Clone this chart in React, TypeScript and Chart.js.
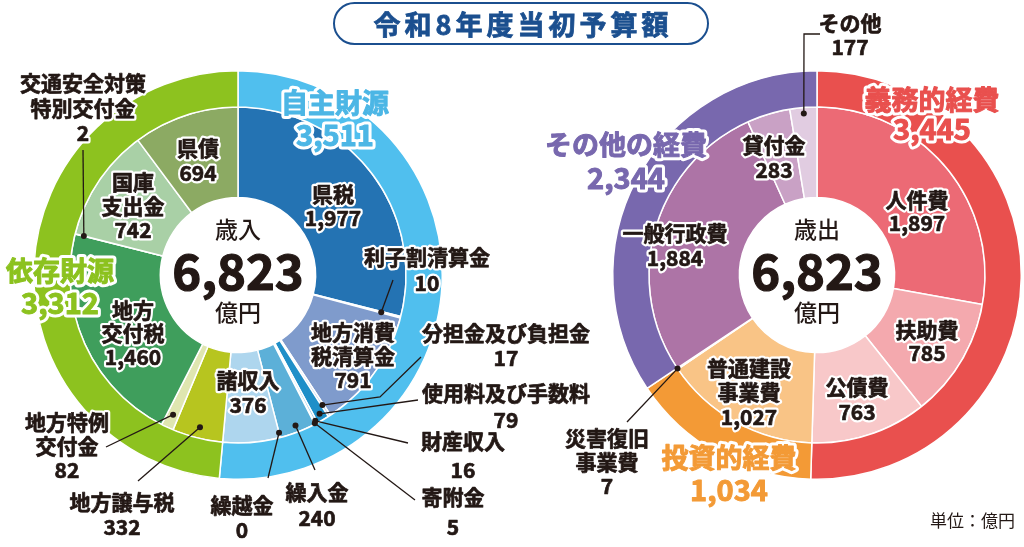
import React, { useEffect, useRef } from 'react';
import { Chart, registerables } from 'chart.js';
Chart.register(...registerables);

const FONT = '"Noto Sans CJK JP", "Noto Sans", sans-serif';
const INK = '#231815';

// ---- Revenue (歳入) ----
const revenueTitle = '歳入';
const revenueGroups = ['自主財源', '依存財源'];
const revenueGroupValues = [3511, 3312];
const revenueItems = [
  '県税', '利子割清算金', '地方消費\n税清算金', '分担金及び負担金', '使用料及び手数料',
  '財産収入', '寄附金', '繰入金', '繰越金', '諸収入',
  '地方譲与税', '地方特例\n交付金', '地方\n交付税', '交通安全対策\n特別交付金', '国庫\n支出金', '県債',
];
const revenueItemValues = [1977, 10, 791, 17, 79, 16, 5, 240, 0, 376, 332, 82, 1460, 2, 742, 694];

// ---- Expenditure (歳出) ----
const expenseTitle = '歳出';
const expenseGroups = ['義務的経費', '投資的経費', 'その他の経費'];
const expenseGroupValues = [3445, 1034, 2344];
const expenseItems = [
  '人件費', '扶助費', '公債費', '普通建設\n事業費', '災害復旧\n事業費', '一般行政費', '貸付金', 'その他',
];
const expenseItemValues = [1897, 785, 763, 1027, 7, 1884, 283, 177];

const unitLabel = '単位：億円';
const mainTitle = '令和8年度当初予算額';

// ---- styles ----
const revenueGroupColors = ['#50bfee', '#8dc21f'];
const revenueItemColors = [
  '#2473b3', '#1d68a6', '#7f9bcc', '#c3d4ec', '#1f8fc8',
  '#9ccbe9', '#5ab0dc', '#5cb0d8', '#aed6ee', '#aed6ee',
  '#b7c51f', '#dfe6b0', '#3f9e5c', '#3f9e5c', '#a9d0a6', '#8caa63',
];
const revenueGroupTextColors = ['#4cb6e5', '#8cc21f'];
const expenseGroupColors = ['#e9504e', '#f39a36', '#7868ae'];
const expenseItemColors = ['#ec6a75', '#f4a9ae', '#f8c8c9', '#f9c486', '#f39a36', '#ad74a6', '#c9a1c5', '#e1cce1'];
const expenseGroupTextColors = ['#e9504e', '#f39a36', '#7868ae'];

type Lbl = {
  ring: 0 | 1; i: number; x: number; y: number; lh: number;
  dotR?: number; path?: number[][];
};

const revenueLayout: Lbl[] = [
  { ring: 0, i: 0, x: 97, y: -172, lh: 32 },
  { ring: 0, i: 1, x: -178, y: -4, lh: 32 },
  { ring: 1, i: 0, x: 95, y: -81, lh: 24 },
  { ring: 1, i: 1, x: 189, y: -18, lh: 26, dotR: 148, path: [[155, 5]] },
  { ring: 1, i: 2, x: 115, y: 57, lh: 24 },
  { ring: 1, i: 3, x: 268, y: 58, lh: 25, dotR: 155, path: [[142, 122], [183, 82]] },
  { ring: 1, i: 4, x: 268, y: 118, lh: 27, dotR: 161, path: [[180, 125]] },
  { ring: 1, i: 5, x: 225, y: 166, lh: 29, dotR: 165, path: [[170, 168]] },
  { ring: 1, i: 6, x: 215, y: 222, lh: 30, dotR: 167, path: [[177, 225]] },
  { ring: 1, i: 7, x: 79, y: 217, lh: 26, dotR: 161, path: [[77, 195]] },
  { ring: 1, i: 8, x: 4, y: 230, lh: 25, dotR: 163, path: [[30, 203]] },
  { ring: 1, i: 9, x: 10, y: 105, lh: 25 },
  { ring: 1, i: 10, x: -116, y: 227, lh: 25, dotR: 157, path: [[-100, 206]] },
  { ring: 1, i: 11, x: -171, y: 147, lh: 24, dotR: 154, path: [[-132, 172]] },
  { ring: 1, i: 12, x: -105, y: 35, lh: 23.5 },
  { ring: 1, i: 13, x: -155, y: -192, lh: 25, dotR: 159, path: [[-155, -125]] },
  { ring: 1, i: 14, x: -105, y: -93, lh: 24 },
  { ring: 1, i: 15, x: -40, y: -127, lh: 25 },
];

const expenseLayout: Lbl[] = [
  { ring: 0, i: 0, x: 115, y: -175, lh: 29 },
  { ring: 0, i: 1, x: -88, y: 183, lh: 32 },
  { ring: 0, i: 2, x: -191, y: -130, lh: 33 },
  { ring: 1, i: 0, x: 100, y: -75, lh: 23 },
  { ring: 1, i: 1, x: 110, y: 55, lh: 23 },
  { ring: 1, i: 2, x: 40, y: 112, lh: 25 },
  { ring: 1, i: 3, x: -68, y: 93, lh: 24.5 },
  { ring: 1, i: 4, x: -210, y: 163, lh: 24, dotR: 168, path: [[-190, 147]] },
  { ring: 1, i: 5, x: -142, y: -42, lh: 25 },
  { ring: 1, i: 6, x: -43, y: -130, lh: 25 },
  { ring: 1, i: 7, x: 33, y: -252, lh: 24, dotR: 162, path: [[-13, -241], [3, -241]] },
];

const fmt = (v: number) => v.toLocaleString('en-US');

type Cfg = {
  key: string; title: string;
  groups: string[]; groupValues: number[]; groupColors: string[]; groupTextColors: string[];
  items: string[]; itemValues: number[]; itemColors: string[];
  layout: Lbl[]; padding: { left: number; right: number; top: number; bottom: number };
};

function heavyText(ctx: CanvasRenderingContext2D, t: string, x: number, y: number, color: string, halo: number, extra: number) {
  ctx.lineJoin = 'round';
  ctx.strokeStyle = '#ffffff';
  ctx.lineWidth = halo;
  ctx.strokeText(t, x, y);
  ctx.fillStyle = color;
  ctx.fillText(t, x, y);
  if (extra > 0) {
    ctx.strokeStyle = color;
    ctx.lineWidth = extra;
    ctx.strokeText(t, x, y);
  }
}

function makeLabelPlugin(cfg: Cfg) {
  return {
    id: 'ringLabels_' + cfg.key,
    afterDraw(chart: any) {
      const ctx: CanvasRenderingContext2D = chart.ctx;
      const first = chart.getDatasetMeta(0).data[0].getProps(['x', 'y'], true);
      const cx = first.x, cy = first.y;
      ctx.save();
      // leader lines
      ctx.strokeStyle = INK;
      ctx.fillStyle = INK;
      ctx.lineWidth = 1.3;
      for (const l of cfg.layout) {
        if (!l.path || l.dotR === undefined) continue;
        const arc = chart.getDatasetMeta(l.ring).data[l.i].getProps(['startAngle', 'endAngle'], true);
        const a = (arc.startAngle + arc.endAngle) / 2;
        const px = cx + l.dotR * Math.cos(a);
        const py = cy + l.dotR * Math.sin(a);
        ctx.beginPath();
        ctx.moveTo(px, py);
        for (const [dx, dy] of l.path) ctx.lineTo(cx + dx, cy + dy);
        ctx.stroke();
        ctx.beginPath();
        ctx.arc(px, py, 3, 0, Math.PI * 2);
        ctx.fill();
      }
      ctx.textAlign = 'center';
      ctx.textBaseline = 'middle';
      for (const l of cfg.layout) {
        const isGroup = l.ring === 0;
        const name = isGroup ? cfg.groups[l.i] : cfg.items[l.i];
        const value = isGroup ? cfg.groupValues[l.i] : cfg.itemValues[l.i];
        const lines = [...name.split('\n'), fmt(value)];
        const color = isGroup ? cfg.groupTextColors[l.i] : INK;
        lines.forEach((t, k) => {
          const isNum = k === lines.length - 1;
          const size = isGroup ? (isNum ? 29 : 27) : 21;
          ctx.font = `700 ${size}px ${FONT}`;
          heavyText(ctx, t, cx + l.x, cy + l.y + k * l.lh, color, isGroup ? 7 : 5, isGroup ? 1 : 0.7);
        });
      }
      // center
      const total = cfg.groupValues.reduce((s, v) => s + v, 0);
      ctx.font = `500 23px ${FONT}`;
      heavyText(ctx, cfg.title, cx, cy - 46, INK, 0, 0);
      ctx.font = `700 49px ${FONT}`;
      heavyText(ctx, fmt(total), cx, cy - 4, INK, 0, 1.2);
      ctx.font = `500 23px ${FONT}`;
      heavyText(ctx, '億円', cx, cy + 37, INK, 0, 0);
      ctx.restore();
    },
  };
}

function Donut({ cfg }: { cfg: Cfg }) {
  const ref = useRef<HTMLCanvasElement>(null);
  useEffect(() => {
    if (!ref.current) return;
    const chart = new Chart(ref.current, {
      type: 'doughnut',
      data: {
        labels: cfg.items,
        datasets: [
          {
            data: cfg.groupValues, backgroundColor: cfg.groupColors, weight: 36.25,
            borderColor: '#ffffff', borderWidth: 1.5, hoverOffset: 0,
          } as any,
          {
            data: cfg.itemValues, backgroundColor: cfg.itemColors, weight: 90.4,
            borderColor: '#ffffff', borderWidth: 1.5, hoverOffset: 0,
          } as any,
        ],
      },
      options: {
        responsive: false,
        animation: false,
        cutout: '38%',
        events: [],
        layout: { padding: cfg.padding },
        plugins: { legend: { display: false }, tooltip: { enabled: false } },
      } as any,
      plugins: [makeLabelPlugin(cfg) as any],
    });
    return () => chart.destroy();
  }, []);
  return (
    <canvas ref={ref} width={1024} height={547}
      style={{ position: 'absolute', left: 0, top: 0, width: 1024, height: 547 }} />
  );
}

const revenueCfg: Cfg = {
  key: 'rev', title: revenueTitle,
  groups: revenueGroups, groupValues: revenueGroupValues, groupColors: revenueGroupColors,
  groupTextColors: revenueGroupTextColors,
  items: revenueItems, itemValues: revenueItemValues, itemColors: revenueItemColors,
  layout: revenueLayout, padding: { left: 33, right: 581, top: 70, bottom: 67 },
};

const expenseCfg: Cfg = {
  key: 'exp', title: expenseTitle,
  groups: expenseGroups, groupValues: expenseGroupValues, groupColors: expenseGroupColors,
  groupTextColors: expenseGroupTextColors,
  items: expenseItems, itemValues: expenseItemValues, itemColors: expenseItemColors,
  layout: expenseLayout, padding: { left: 612, right: 2, top: 70, bottom: 67 },
};

export default function App() {
  return (
    <div style={{ position: 'fixed', left: 0, top: 0, width: 1024, height: 547, background: '#ffffff', overflow: 'hidden' }}>
      <Donut cfg={revenueCfg} />
      <Donut cfg={expenseCfg} />
      <div style={{
        position: 'absolute', left: 333, top: 2, width: 376, height: 43, boxSizing: 'border-box',
        border: '2.5px solid #1b4f8f', borderRadius: 24, display: 'flex', alignItems: 'center',
        justifyContent: 'center', fontFamily: FONT, fontWeight: 700, fontSize: 27, color: '#1b4f8f',
        letterSpacing: 4, paddingLeft: 4, background: '#ffffff',
        WebkitTextStroke: '0.8px #1b4f8f',
      } as any}>{mainTitle}</div>
      <div style={{
        position: 'absolute', left: 925, top: 508, width: 95, textAlign: 'center',
        fontFamily: FONT, fontSize: 17, color: INK, lineHeight: '24px',
      }}>{unitLabel}</div>
    </div>
  );
}
